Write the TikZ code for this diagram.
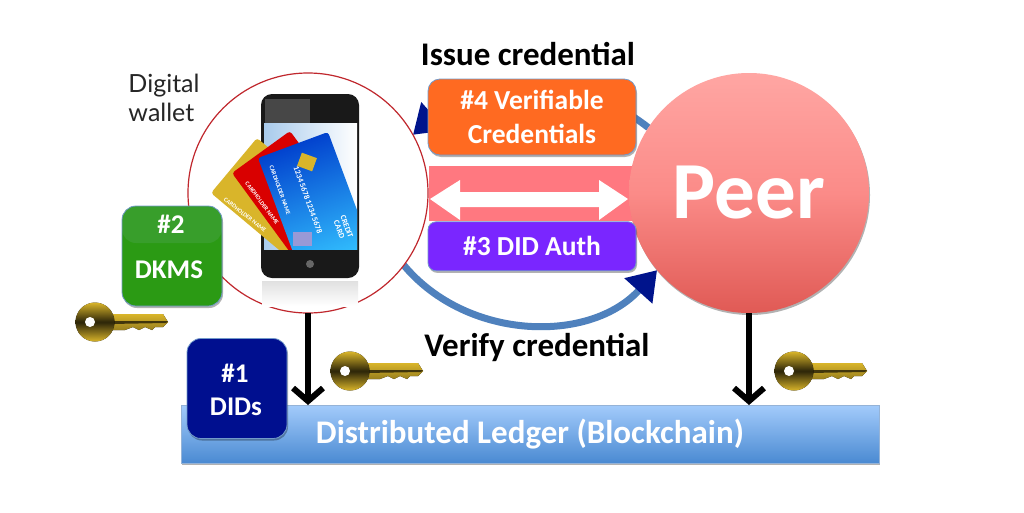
\documentclass[tikz,border=0pt]{standalone}
\usepackage{fontspec}
\setmainfont{Carlito}
\newfontfamily\walletfont{Lato}
\usetikzlibrary{arrows.meta,positioning,shadows}

\definecolor{arcblue}{HTML}{4F81BD}
\definecolor{tipnavy}{HTML}{00148C}
\definecolor{didnavy}{HTML}{000F8F}
\definecolor{vcorange}{HTML}{FF6A21}
\definecolor{authviolet}{HTML}{7A26FF}
\definecolor{bandpink}{HTML}{FF7880}
\definecolor{dkmsgreen}{HTML}{2B9A14}
\definecolor{dkmsgloss}{HTML}{389E2B}
\definecolor{walletred}{HTML}{C0272D}
\definecolor{keygold}{HTML}{D9B52A}
\definecolor{peertop}{HTML}{FFA6A3}
\definecolor{peermid}{HTML}{FB8B88}
\definecolor{peerlow}{HTML}{E05A55}
\definecolor{ledgertop}{HTML}{A3CBFB}
\definecolor{ledgerlow}{HTML}{4A8AD2}
\definecolor{screenblue}{HTML}{A9CBEC}

\tikzset{
	softshadow/.style={drop shadow={shadow xshift=1pt,shadow yshift=-2pt,fill=black,opacity=0.3}},
	roundbox/.style={draw=arcblue!80,line width=0.8pt,rounded corners=12pt,inner sep=0pt,text=white,font=\bfseries\fontsize{27.5}{33}\selectfont,align=center,softshadow},
	boxlabel/.style={text=white,font=\bfseries\fontsize{27}{32}\selectfont,inner sep=0pt},
	steplabel/.style={font=\bfseries\fontsize{33}{38}\selectfont,inner sep=0pt},
	blackarrow/.style={line width=6pt,-{Straight Barb[length=13pt,width=30pt]}},
	blueflow/.style={draw=arcblue,line width=7pt,-{Triangle[length=28pt,width=36pt,color=tipnavy,fill=tipnavy]}},
	cardtext/.style={text=white,font=\bfseries\fontsize{6}{7}\selectfont,inner sep=0pt},
	goldkey/.pic={
		\fill[top color=keygold,bottom color=keygold!70!black] (15,-8) -- (68,-8) -- (73,0) -- (68,5) -- (60,5) -- (57,8) -- (50,5) -- (44,8) -- (38,5) -- (30,8) -- (15,8) -- cycle;
		\fill[black!70!keygold] (15,-1) -- (73,-1) -- (71,1) -- (15,2) -- cycle;
		\fill[top color=keygold,bottom color=keygold,middle color=black!80!keygold] (0,0) circle (19.5);
		\fill[white] (-5,0) circle (5);
	}
}

\begin{document}
\begin{tikzpicture}[x=1pt,y=-1pt]
	\useasboundingbox[fill=white] (0,0) rectangle (1024,512);

	% circles are placed first, the arcs start on them
	\node[circle,minimum size=240pt,inner sep=0pt,outer sep=0pt] (wallet) at (308,193) {};
	\node[circle,minimum size=240pt,inner sep=0pt,outer sep=0pt] (peer) [right=201pt of wallet] {};

	\fill[bandpink] (429,166) rectangle (640,221);
	\draw[blueflow] (peer.147) to[bend right=40] (wallet.29);
	\draw[blueflow] (wallet.-37) to[bend right=49] (peer.-140);

	\node[draw=walletred,line width=1.2pt,circle,minimum size=240pt,inner sep=0pt,outer sep=0pt,fill=white] at (wallet) {};

	% phone
	\fill[bottom color=white,top color=black!12] (262,281) rectangle (358,306);
	\fill[black!90,rounded corners=11pt] (261,94) rectangle (359,278);
	\fill[black!72] (265,99) rectangle (310,123);
	\shade[left color=screenblue,right color=white] (264,123) rectangle (357,249);
	\fill[black!60] (310,264) circle (4);
	\begin{scope}
		\clip (190,100) rectangle (357,249);
		\fill[keygold,rounded corners=3pt] (257,138) -- (211,193) -- (303,270) -- (349,215) -- cycle;
		\fill[red!85!black,rounded corners=3pt] (290,131) -- (232,173) -- (303,270) -- (361,228) -- cycle;
		\shade[left color=blue!70!cyan!80!black,right color=cyan!70!blue!80,shading angle=20,rounded corners=3pt] (258,158) -- (328,132) -- (370,245) -- (300,271) -- cycle;
		\fill[keygold,rotate around={-20:(307,162)}] (299,155) rectangle (315,169);
		\fill[black!40!blue!40] (293,232) rectangle (312,246);
	\end{scope}
	\node[cardtext,rotate=-38] (goldname) at (245,215) {CARDHOLDER NAME};
	\node[cardtext,rotate=-53] (redname) at (262,203) {CARDHOLDER NAME};
	\node[cardtext,rotate=-70] (bluename) at (280,190) {CARDHOLDER NAME};
	\node[cardtext,rotate=-70,font=\bfseries\fontsize{8}{9}\selectfont] (bluenumber) at (308,200) {1234 5678 1234 5678};
	\node[cardtext,rotate=-70,align=center,font=\bfseries\fontsize{8}{8}\selectfont] (bluecredit) at (343,228) {CREDIT\\CARD};

	\node[circle,minimum size=240pt,inner sep=0pt,top color=peertop,bottom color=peerlow,middle color=peermid,softshadow,text=white,font=\bfseries\fontsize{81}{90}\selectfont] at (peer) {\raisebox{-5pt}{Peer}};

	% boxes
	\node[roundbox,fill=vcorange,minimum width=208pt,minimum height=76pt] (vcbox) at (532,117) {\#4 Verifiable\\[1pt]Credentials};
	\node[roundbox,fill=authviolet,minimum width=208pt,minimum height=49pt,rounded corners=8pt] (authbox) [below=66pt of vcbox] {\#3 DID Auth};
	\path[draw=none,fill=white] (430,199) -- (460,180) -- (460,192) -- (599,192) -- (599,180) -- (628,199) -- (599,220) -- (599,207) -- (460,207) -- (460,220) -- cycle;

	\node[roundbox,minimum size=100pt,rounded corners=14pt,fill=dkmsgreen,path picture={\fill[dkmsgloss] (path picture bounding box.north west) rectangle ([yshift=-37pt]path picture bounding box.north east);}] (dkmsbox) at (172,256) {};
	\node[boxlabel] (dkmstop) at (171,224) {\#2};
	\node[boxlabel] (dkmsname) at (169,270) {DKMS};

	\node[draw=arcblue!60,line width=0.8pt,top color=ledgertop,bottom color=ledgerlow,softshadow,minimum width=698pt,minimum height=58pt,inner sep=0pt,outer sep=0pt,text=white,font=\bfseries\fontsize{33}{38}\selectfont] (ledger) at (530,434) {Distributed Ledger (Blockchain)};

	\node[roundbox,minimum size=100pt,rounded corners=14pt,fill=didnavy] (didbox) at (237,388.5) {};
	\node[boxlabel] (didtop) at (235,373) {\#1};
	\node[boxlabel] (didname) at (236,407) {DIDs};

	% ledger arrows
	\draw[blackarrow] (wallet.south) -- (wallet.south |- ledger.north);
	\draw[blackarrow] (peer.south) -- (peer.south |- ledger.north);

	% keys
	\pic (dkmskey) at (95,322) {goldkey};
	\pic (didkey) at (350,371) {goldkey};
	\pic (peerkey) at (794,371) {goldkey};

	% labels
	\node[steplabel] (issue) at (528,54) {Issue credential};
	\node[steplabel] (verify) at (537,347) {Verify credential};
	\node[align=left,inner sep=0pt,font=\walletfont\fontsize{25}{29}\selectfont,text=black!85] (walletname) at (164,98) {Digital\\wallet};
\end{tikzpicture}
\end{document}
